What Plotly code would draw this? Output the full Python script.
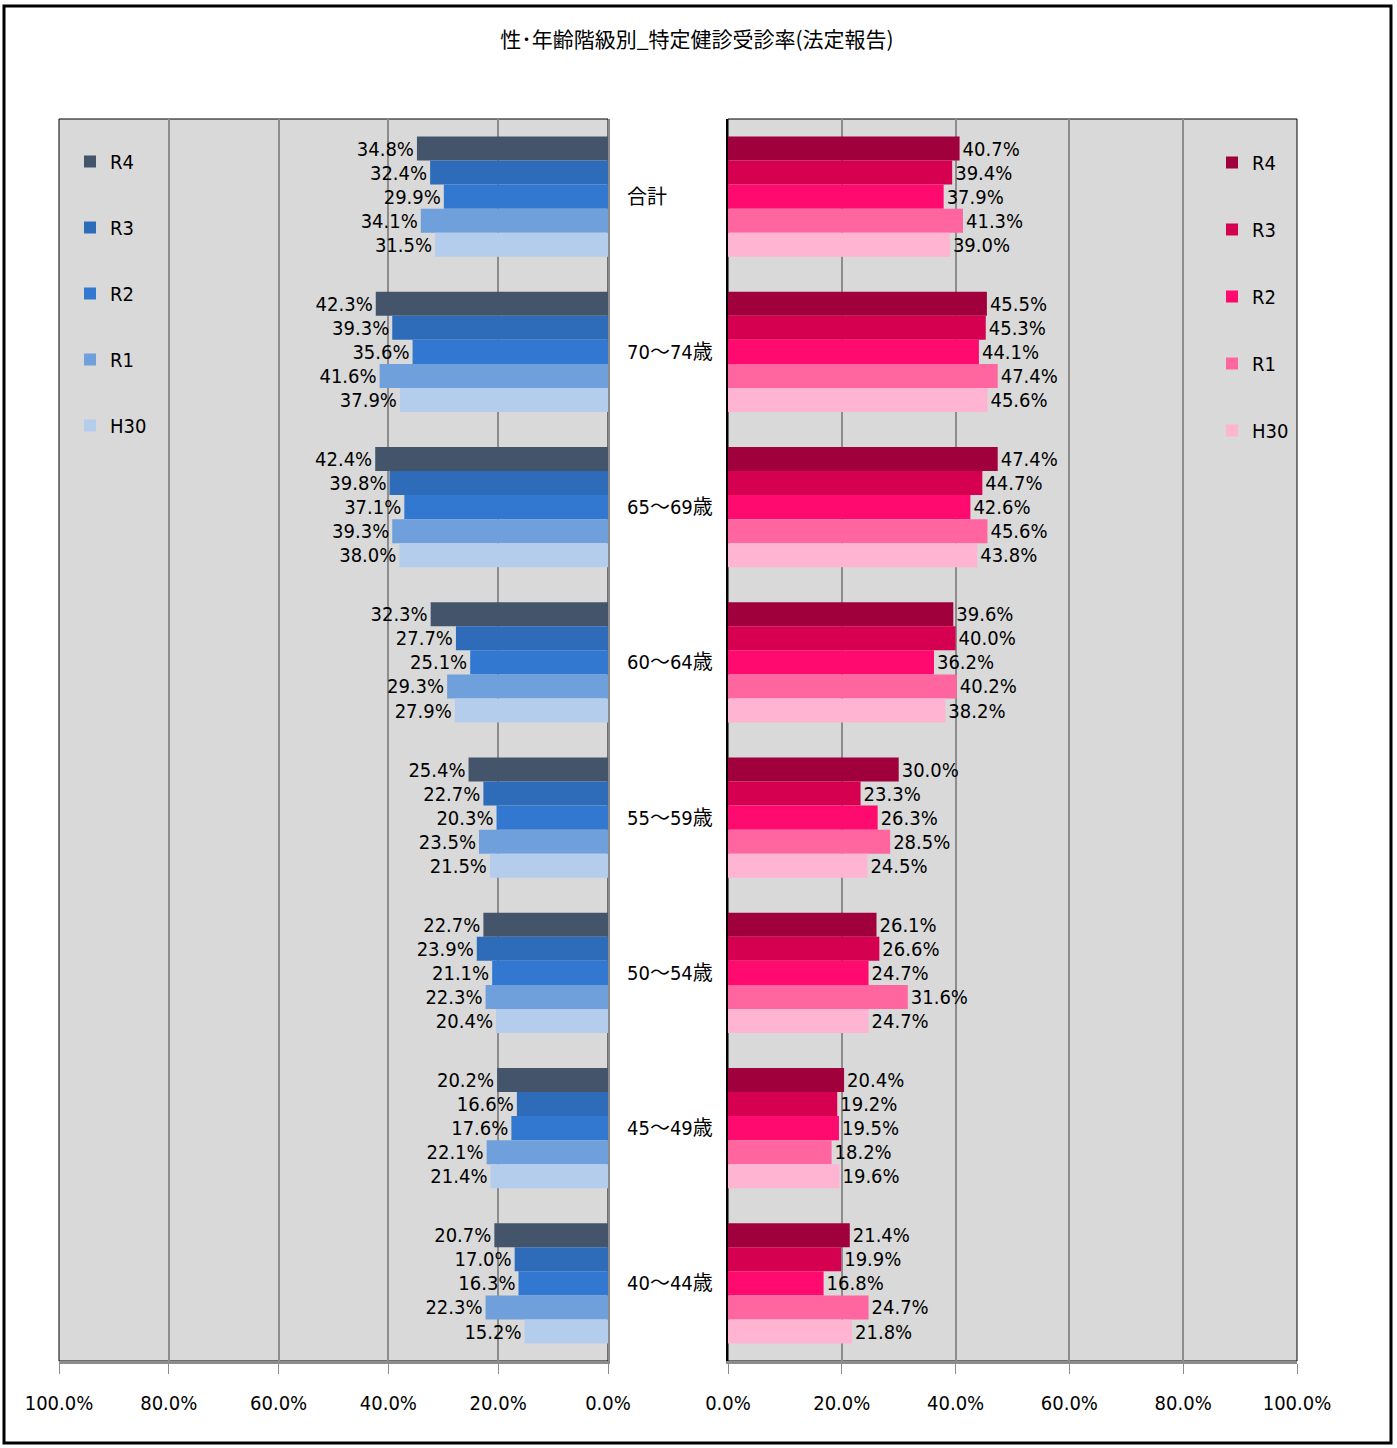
import plotly.graph_objects as go

categories = ["合計", "70～74歳", "65～69歳", "60～64歳", "55～59歳", "50～54歳", "45～49歳", "40～44歳"]
series = ["R4", "R3", "R2", "R1", "H30"]

male_R4 = [34.8, 42.3, 42.4, 32.3, 25.4, 22.7, 20.2, 20.7]
male_R3 = [32.4, 39.3, 39.8, 27.7, 22.7, 23.9, 16.6, 17.0]
male_R2 = [29.9, 35.6, 37.1, 25.1, 20.3, 21.1, 17.6, 16.3]
male_R1 = [34.1, 41.6, 39.3, 29.3, 23.5, 22.3, 22.1, 22.3]
male_H30 = [31.5, 37.9, 38.0, 27.9, 21.5, 20.4, 21.4, 15.2]

female_R4 = [40.7, 45.5, 47.4, 39.6, 30.0, 26.1, 20.4, 21.4]
female_R3 = [39.4, 45.3, 44.7, 40.0, 23.3, 26.6, 19.2, 19.9]
female_R2 = [37.9, 44.1, 42.6, 36.2, 26.3, 24.7, 19.5, 16.8]
female_R1 = [41.3, 47.4, 45.6, 40.2, 28.5, 31.6, 18.2, 24.7]
female_H30 = [39.0, 45.6, 43.8, 38.2, 24.5, 24.7, 19.6, 21.8]

male_data = [male_R4, male_R3, male_R2, male_R1, male_H30]
female_data = [female_R4, female_R3, female_R2, female_R1, female_H30]

male_colors = ["#44546a", "#2e6cba", "#3278d0", "#6fa0dc", "#b4cdec"]
female_colors = ["#a0003c", "#d60050", "#ff0a6e", "#ff66a0", "#ffb4d2"]

title = "性･年齢階級別_特定健診受診率(法定報告)"

NUM_FONT = "Liberation Sans Narrow, DejaVu Sans Condensed, Noto Sans CJK JP"
CJK_FONT = "Liberation Sans Narrow, DejaVu Sans Condensed, Noto Sans CJK JP"

W, H = 1397, 1448

def px_x(p):
    return p / W

def px_y(p):
    return 1 - p / H

fig = go.Figure()

for i, s in enumerate(series):
    vals = [v / 100 for v in male_data[i]]
    fig.add_trace(go.Bar(
        y=categories, x=vals, orientation="h", name=s,
        marker=dict(color=male_colors[i], line=dict(width=0)),
        text=[f"{v:.1f}%" for v in male_data[i]], textposition="outside",
        textfont=dict(family=NUM_FONT, size=20, color="#000000"),
        cliponaxis=False, xaxis="x", yaxis="y",
        legend="legend", legendgroup="m" + s,
    ))

for i, s in enumerate(series):
    vals = [v / 100 for v in female_data[i]]
    fig.add_trace(go.Bar(
        y=categories, x=vals, orientation="h", name=s,
        marker=dict(color=female_colors[i], line=dict(width=0)),
        text=[f"{v:.1f}%" for v in female_data[i]], textposition="outside",
        textfont=dict(family=NUM_FONT, size=20, color="#000000"),
        cliponaxis=False, xaxis="x2", yaxis="y2",
        legend="legend2", legendgroup="f" + s,
    ))

xl = [px_x(59), px_x(608)]
xr = [px_x(728), px_x(1297)]
yd = [px_y(1361), px_y(119)]

axis_common = dict(
    tickformat=".1%", dtick=0.2, showgrid=True, gridcolor="#8c8c8c", gridwidth=1.5,
    zeroline=False, showline=True, linecolor="#8c8c8c", linewidth=3,
    ticks="outside", ticklen=10, tickcolor="#8c8c8c", tickwidth=1,
    ticklabelstandoff=12, automargin=False,
    tickfont=dict(family=NUM_FONT, size=20, color="#000000"),
)

fig.update_layout(
    width=W, height=H,
    margin=dict(l=0, r=0, t=0, b=0, pad=0, autoexpand=False),
    paper_bgcolor="#ffffff", plot_bgcolor="#d9d9d9",
    barmode="group", bargap=0.225, bargroupgap=0,
    showlegend=True,
    title=dict(text=title, x=px_x(697), xanchor="center", y=px_y(40), yanchor="middle",
               automargin=False,
               font=dict(family="Noto Sans CJK JP", size=21, color="#000000")),
    xaxis=dict(domain=xl, range=[1, 0], anchor="y", **axis_common),
    xaxis2=dict(domain=xr, range=[0, 1], anchor="y2", **axis_common),
    yaxis=dict(domain=yd, anchor="x", type="category", autorange="reversed",
               showticklabels=False, showgrid=False, zeroline=False, automargin=False,
               showline=True, side="right", linecolor="#8c8c8c", linewidth=2, ticks=""),
    yaxis2=dict(domain=yd, anchor="x2", type="category", autorange="reversed",
                showticklabels=False, showgrid=False, zeroline=False, automargin=False,
                showline=True, side="left", linecolor="#000000", linewidth=2, ticks=""),
    legend=dict(x=px_x(70), y=px_y(142), xanchor="left", yanchor="top",
                bgcolor="rgba(0,0,0,0)", traceorder="grouped", tracegroupgap=37,
                itemwidth=30,
                font=dict(family=NUM_FONT, size=20, color="#000000"),
                itemclick=False, itemdoubleclick=False),
    legend2=dict(x=px_x(1212), y=px_y(143), xanchor="left", yanchor="top",
                 bgcolor="rgba(0,0,0,0)", traceorder="grouped", tracegroupgap=38,
                 itemwidth=30,
                 font=dict(family=NUM_FONT, size=20, color="#000000"),
                 itemclick=False, itemdoubleclick=False),
)

# category labels in the middle gap
for c in categories:
    fig.add_annotation(x=px_x(625), xref="paper", xanchor="left", y=c, yref="y",
                       text=c, showarrow=False,
                       font=dict(family=CJK_FONT, size=20, color="#000000"))

# plot-area borders
for xref, yref in [("x domain", "y domain"), ("x2 domain", "y2 domain")]:
    fig.add_shape(type="rect", xref=xref, yref=yref, x0=0, x1=1, y0=0, y1=1,
                  line=dict(color="#000000", width=1), fillcolor="rgba(0,0,0,0)", layer="below")

# outer frame
fig.add_shape(type="rect", xref="paper", yref="paper",
              x0=px_x(4), x1=px_x(1391), y0=px_y(1443), y1=px_y(6),
              line=dict(color="#000000", width=3), fillcolor="rgba(0,0,0,0)")

fig.write_html(
    "out.html",
    config={"displayModeBar": False},
    post_script="document.body.style.margin='0';document.body.style.overflow='hidden';",
)
